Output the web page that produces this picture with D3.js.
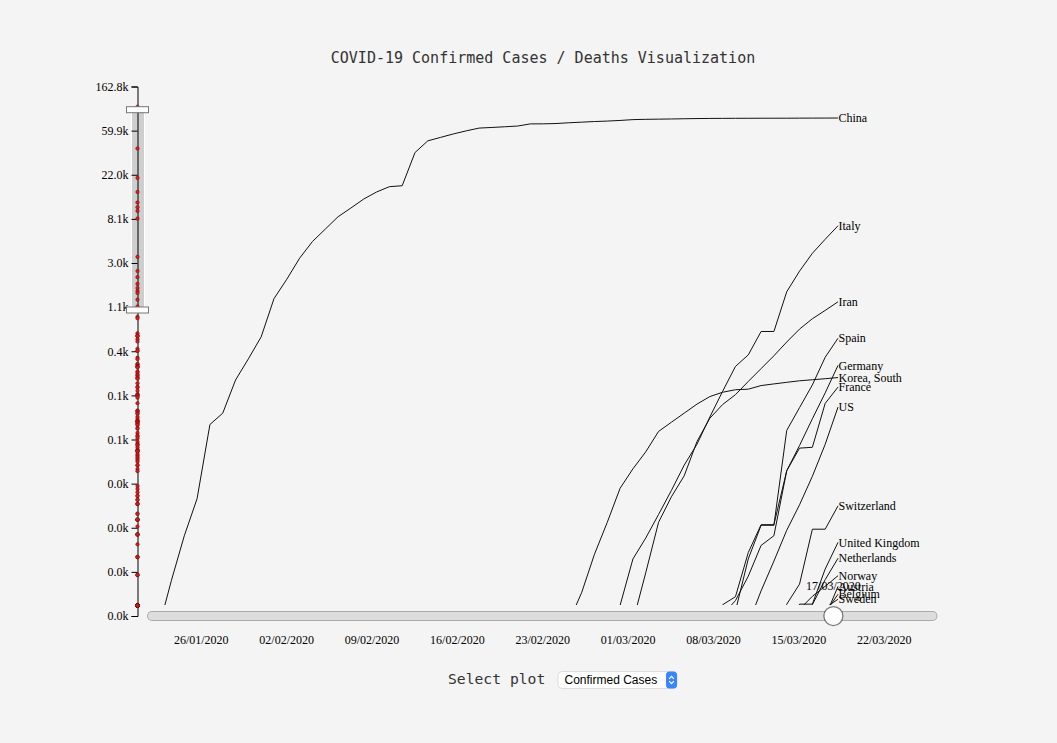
<!DOCTYPE html>
<html>
<head>
<meta charset="utf-8">
<script src="https://cdn.jsdelivr.net/npm/d3@7"></script>
<style>
  html, body { margin: 0; padding: 0; background: #f4f4f4; }
  svg { display: block; }
</style>
</head>
<body>
<svg id="chart" width="1057" height="743"></svg>
<script>
// ---------------- DATA ----------------
const titleText = "COVID-19 Confirmed Cases / Deaths Visualization";
const selectLabel = "Select plot";
const selectOption = "Confirmed Cases";
const firstDate = "2020-01-22";
const lastDate = "2020-03-17";
const axisEndDate = "2020-03-26";
const sliderEndDate = "2020-03-25";
const sliderDate = "2020-03-17";

const countries = ["China", "Italy", "Iran", "Spain", "Germany", "Korea, South", "France", "US",
  "Switzerland", "United Kingdom", "Netherlands", "Norway", "Austria", "Belgium", "Sweden"];

const china = [548,643,920,1406,2075,2877,5509,6087,8141,9802,
  11891,16630,19716,23707,27440,30587,34110,36814,39829,42354,
  44386,44759,59895,66358,68413,70513,72434,74211,74619,75077,
  75550,77001,77022,77241,77754,78166,78600,78928,79356,79932,
  80136,80261,80386,80537,80690,80770,80823,80860,80887,80921,
  80932,80945,80977,81003,81033,81058];
const italy = [0,0,0,0,0,0,0,0,0,2,
  2,2,2,2,2,2,3,3,3,3,
  3,3,3,3,3,3,3,3,3,3,
  20,62,155,229,322,453,655,888,1128,1694,
  2036,2502,3089,3858,4636,5883,7375,9172,10149,12462,
  12462,17660,21157,24747,27980,31506];
const iran = [0,0,0,0,0,0,0,0,0,0,
  0,0,0,0,0,0,0,0,0,0,
  0,0,0,0,0,0,0,0,2,5,
  18,28,43,61,95,139,245,388,593,978,
  1501,2336,2922,3513,4747,5823,6566,7161,8042,9000,
  10075,11364,12729,13938,14991,16169];
const spain = [0,0,0,0,0,0,0,0,0,0,
  1,1,1,1,1,1,1,1,2,2,
  2,2,2,2,2,2,2,2,2,2,
  2,2,2,2,6,13,15,32,45,84,
  120,165,222,259,400,500,673,1073,1695,2277,
  2277,5232,6391,7798,9942,11748];
const germany = [0,0,0,0,0,1,4,4,4,5,
  8,10,12,12,12,12,13,13,14,14,
  16,16,16,16,16,16,16,16,16,16,
  16,16,16,16,17,27,46,48,79,130,
  159,196,262,482,670,799,1040,1176,1457,1908,
  2078,3675,4585,5795,7272,9257];
const korea = [1,1,2,2,3,4,4,4,4,11,
  12,15,15,16,19,23,24,24,25,27,
  28,28,28,28,28,29,30,31,31,104,
  204,433,602,833,977,1261,1766,2337,3150,3736,
  4335,5186,5621,6088,6593,7041,7314,7478,7513,7755,
  7869,7979,8086,8162,8236,8320];
const france = [0,0,2,3,3,3,4,5,5,5,
  6,6,6,6,6,6,6,11,11,11,
  11,11,11,11,12,12,12,12,12,12,
  12,12,12,12,14,18,38,57,100,130,
  191,204,288,380,656,957,1134,1217,1792,2289,
  2289,3672,4480,4513,6633,7652];
const us = [1,1,2,2,5,5,5,5,5,6,
  8,8,11,11,11,11,11,11,11,11,
  12,12,13,13,13,13,13,13,13,13,
  15,15,15,51,51,57,58,60,68,74,
  98,118,149,217,262,402,518,583,959,1281,
  1663,2179,2726,3499,4632,6421];
const switzerland = [0,0,0,0,0,0,0,0,0,0,
  0,0,0,0,0,0,0,0,0,0,
  0,0,0,0,0,0,0,0,0,0,
  0,0,0,0,1,1,8,8,18,27,
  42,56,90,114,214,268,337,374,491,652,
  652,1139,1359,2200,2200,2700];
const unitedKingdom = [0,0,0,0,0,0,0,0,0,2,
  2,2,2,2,2,2,3,3,3,8,
  8,9,9,9,9,9,9,9,9,9,
  9,9,9,9,13,13,15,20,23,36,
  40,51,85,115,163,206,273,321,382,456,
  456,798,1140,1140,1551,1960];
const netherlands = [0,0,0,0,0,0,0,0,0,0,
  0,0,0,0,0,0,0,0,0,0,
  0,0,0,0,0,0,0,0,0,0,
  0,0,0,0,0,0,1,1,6,10,
  18,24,38,82,128,188,265,321,382,503,
  503,804,959,1135,1413,1705];
const norway = [0,0,0,0,0,0,0,0,0,0,
  0,0,0,0,0,0,0,0,0,0,
  0,0,0,0,0,0,0,0,0,0,
  0,0,0,0,0,1,1,6,15,19,
  25,32,56,87,108,147,176,205,400,598,
  702,996,1090,1221,1333,1463];
const austria = [0,0,0,0,0,0,0,0,0,0,
  0,0,0,0,0,0,0,0,0,0,
  0,0,0,0,0,0,0,0,0,0,
  0,0,0,0,2,2,3,3,9,14,
  18,21,29,41,55,79,104,131,182,246,
  302,504,655,860,1018,1332];
const belgium = [0,0,0,0,0,0,0,0,0,0,
  0,0,0,1,1,1,1,1,1,1,
  1,1,1,1,1,1,1,1,1,1,
  1,1,1,1,1,1,1,1,1,2,
  8,13,23,50,109,169,200,239,267,314,
  314,559,689,886,1058,1243];
const sweden = [0,0,0,0,0,0,0,0,0,1,
  1,1,1,1,1,1,1,1,1,1,
  1,1,1,1,1,1,1,1,1,1,
  1,1,1,1,1,2,7,7,12,14,
  15,21,35,94,101,161,203,248,355,500,
  599,814,961,1022,1103,1190];

const seriesValues = [china, italy, iran, spain, germany, korea, france, us,
  switzerland, unitedKingdom, netherlands, norway, austria, belgium, sweden];

// totals on the selected date for all remaining countries (dots on the y axis)
const otherCountryTotals = [1024,878,696,673,478,452,452,448,418,396,337,321,321,275,266,
  238,237,228,225,223,220,201,196,187,184,177,172,171,154,142,140,130,120,119,117,114,111,
  98,83,82,81,78,77,72,69,66,65,65,65,63,62,60,60,56,55,50,47,46,44,41,39,38,38,36,34,34,
  33,33,33,31,30,29,28,27,26,24,24,22,21,15,14,13,12,12,11,11,10,10,10,8,8,7,7,7,7,7,6,
  5,5,5,5,4,3,3,3,2,2,2,1,1,1,1,1,1,1,1,1,1,1,1,1,1,1,1,1];

const yTickExponents = [0,1,2,3,4,5,6,7,8,9,10,11,12];
const brushExtentPx = [109.7, 310];   // brush on the overview axis (pixels)

// ---------------- LAYOUT ----------------
const W = 1057, H = 743;
const axisX = 137.5;
const plotTop = 86.5, plotBottom = 616, clipBottom = 605;
const mainTop = 98.5;
const xLeft = 152, xRight = 932.5;
const lineLeft = 133, lineRight = 838;
const dotShift = 10.5;

const parse = d3.timeParse("%Y-%m-%d");
const fmtDate = d3.timeFormat("%d/%m/%Y");
const d0 = parse(firstDate), d1 = parse(lastDate);
const dates = d3.range(china.length).map(i => d3.timeDay.offset(d0, i));

const svg = d3.select("#chart");
svg.append("rect").attr("width", W).attr("height", H).attr("fill", "#f4f4f4");

const serif = "'Liberation Serif', 'Times New Roman', Times, serif";
const mono = "'DejaVu Sans Mono', Menlo, monospace";

// title
svg.append("text")
  .attr("x", 543).attr("y", 63)
  .attr("text-anchor", "middle")
  .attr("font-family", mono).attr("font-size", 15).attr("fill", "#333")
  .text(titleText);

// ---------------- SCALES ----------------
const yAxisScale = d3.scaleLog().domain([1, Math.exp(12)]).range([plotBottom, plotTop]);
const yDotScale = d3.scaleLog().domain([1, Math.exp(12)]).range([plotBottom - dotShift, plotTop - dotShift]);
const yMain = d3.scaleLog()
  .domain([yAxisScale.invert(brushExtentPx[1]), yAxisScale.invert(brushExtentPx[0])])
  .range([plotBottom, mainTop]);
const xAxisScale = d3.scaleTime().domain([d0, parse(axisEndDate)]).range([xLeft, xRight]);
const xSlider = d3.scaleTime().domain([d0, parse(sliderEndDate)]).range([xLeft, xRight]);
const xLine = d3.scaleTime().domain([d0, d1]).range([lineLeft, lineRight]);

// ---------------- OVERVIEW AXIS + BRUSH ----------------
const brush = d3.brushY().extent([[axisX - 6.5, plotTop], [axisX + 6.5, plotBottom]]);
const brushG = svg.append("g").attr("class", "brush").call(brush);
brushG.call(brush.move, brushExtentPx);

const yAxisG = svg.append("g")
  .attr("transform", `translate(${axisX},0)`)
  .call(d3.axisLeft(yAxisScale)
    .tickValues(yTickExponents.map(e => Math.exp(e)))
    .tickFormat(d => (d / 1000).toFixed(1) + "k"));
yAxisG.selectAll("text").attr("font-family", serif).attr("font-size", 12);

svg.append("g").selectAll("circle")
  .data(seriesValues.map(s => s[s.length - 1]).concat(otherCountryTotals))
  .join("circle")
  .attr("cx", axisX)
  .attr("cy", d => yDotScale(d))
  .attr("r", 1.8)
  .attr("fill", "#d11f1f")
  .attr("stroke", "#6b0000")
  .attr("stroke-width", 0.4);

svg.append("g").selectAll("rect")
  .data(brushExtentPx)
  .join("rect")
  .attr("x", axisX - 11)
  .attr("y", d => d - 3)
  .attr("width", 22)
  .attr("height", 6)
  .attr("fill", "#fff")
  .attr("stroke", "#777")
  .attr("stroke-width", 1);

// ---------------- MAIN LINES ----------------
svg.append("clipPath").attr("id", "clip")
  .append("rect").attr("x", axisX + 2).attr("y", 0)
  .attr("width", W).attr("height", clipBottom);

const seriesData = countries.map((name, k) => ({
  name,
  values: seriesValues[k].map((v, i) => ({ date: dates[i], value: v }))
}));

const line = d3.line()
  .defined(d => d.value > 0)
  .x(d => xLine(d.date))
  .y(d => yMain(d.value));

const linesG = svg.append("g").attr("clip-path", "url(#clip)");
linesG.selectAll("path")
  .data(seriesData)
  .join("path")
  .attr("d", d => line(d.values))
  .attr("fill", "none")
  .attr("stroke", "#111")
  .attr("stroke-width", 1);

svg.append("g").selectAll("text")
  .data(seriesData)
  .join("text")
  .attr("x", d => xLine(d.values[d.values.length - 1].date) + 0.5)
  .attr("y", d => yMain(d.values[d.values.length - 1].value))
  .attr("dy", "0.35em")
  .attr("font-family", serif).attr("font-size", 12).attr("fill", "#000")
  .text(d => d.name);

// ---------------- X AXIS ----------------
const xAxisG = svg.append("g")
  .attr("transform", `translate(0,${plotBottom})`)
  .call(d3.axisBottom(xAxisScale)
    .ticks(d3.timeWeek.every(1))
    .tickFormat(fmtDate)
    .tickSize(0)
    .tickPadding(19));
xAxisG.select(".domain").remove();
xAxisG.selectAll("text").attr("font-family", serif).attr("font-size", 12);

// ---------------- SLIDER ----------------
const sliderG = svg.append("g").attr("transform", `translate(0,${plotBottom})`);
sliderG.append("line")
  .attr("x1", xSlider.range()[0]).attr("x2", xSlider.range()[1])
  .attr("stroke", "#000").attr("stroke-opacity", 0.3)
  .attr("stroke-width", 10).attr("stroke-linecap", "round");
sliderG.append("line")
  .attr("x1", xSlider.range()[0]).attr("x2", xSlider.range()[1])
  .attr("stroke", "#ddd")
  .attr("stroke-width", 8).attr("stroke-linecap", "round");
const sd = parse(sliderDate);
sliderG.append("circle")
  .attr("cx", xSlider(sd)).attr("r", 9.5)
  .attr("fill", "#fff").attr("stroke", "#000")
  .attr("stroke-opacity", 0.5).attr("stroke-width", 1.25);
sliderG.append("text")
  .attr("x", xSlider(sd)).attr("y", -26)
  .attr("text-anchor", "middle")
  .attr("font-family", serif).attr("font-size", 12).attr("fill", "#000")
  .text(fmtDate(sd));

// ---------------- SELECT CONTROL ----------------
const selX = 558, selY = 671.5, selW = 119, selH = 17;
svg.append("text")
  .attr("x", 448).attr("y", 684)
  .attr("font-family", mono).attr("font-size", 14.7).attr("fill", "#333")
  .text(selectLabel);
const selG = svg.append("g").attr("transform", `translate(${selX},${selY})`);
selG.append("rect")
  .attr("width", selW).attr("height", selH).attr("rx", 4)
  .attr("fill", "#fff").attr("stroke", "#c9c9c9").attr("stroke-width", 0.6);
selG.append("rect")
  .attr("x", selW - 11).attr("width", 11).attr("height", selH).attr("rx", 3.5)
  .attr("fill", "#3a86f7");
selG.append("path")
  .attr("d", `M${selW - 7.8},${selH / 2 - 1.2}L${selW - 5.5},${selH / 2 - 3.6}L${selW - 3.2},${selH / 2 - 1.2}` +
             `M${selW - 7.8},${selH / 2 + 1.2}L${selW - 5.5},${selH / 2 + 3.6}L${selW - 3.2},${selH / 2 + 1.2}`)
  .attr("fill", "none").attr("stroke", "#fff").attr("stroke-width", 1.2);
selG.append("text")
  .attr("x", 6.5).attr("y", 12.5)
  .attr("font-family", "'Liberation Sans', Arial, Helvetica, sans-serif")
  .attr("font-size", 12).attr("fill", "#000")
  .text(selectOption);
</script>
</body>
</html>
